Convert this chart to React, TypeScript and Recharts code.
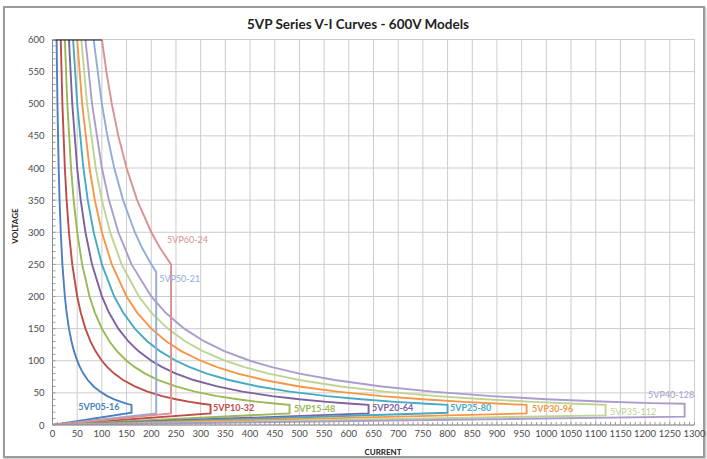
import React from 'react';
import { ComposedChart, Line, XAxis, YAxis, CartesianGrid, ReferenceDot } from 'recharts';

// V-I curves, [current, voltage] pairs
const vp05: [number, number][] = [
  [8.3, 600], [10, 500], [12.5, 400], [14.3, 350], [16.7, 300], [20, 250], [25, 200], [28.6, 175],
  [33.3, 150], [38.5, 130], [43.5, 115], [50, 100], [55.6, 90], [62.5, 80], [71.4, 70], [83.3, 60],
  [96.2, 52], [111, 45], [125, 40], [139, 36], [151.5, 33], [160, 31.3], [160, 19], [0, 0],
];
const vp10: [number, number][] = [
  [16.7, 600], [20, 500], [25, 400], [28.6, 350], [33.3, 300], [40, 250], [50, 200], [57.1, 175],
  [66.7, 150], [76.9, 130], [87, 115], [100, 100], [111, 90], [125, 80], [142.9, 70], [166.7, 60],
  [192.3, 52], [222.2, 45], [250, 40], [277.8, 36], [303, 33], [320, 31.3], [320, 18], [0, 0],
];
const vp15: [number, number][] = [
  [25, 600], [30, 500], [37.5, 400], [42.9, 350], [50, 300], [60, 250], [75, 200], [85.7, 175],
  [100, 150], [115.4, 130], [130.4, 115], [150, 100], [166.7, 90], [187.5, 80], [214.3, 70], [250, 60],
  [288.5, 52], [333.3, 45], [375, 40], [416.7, 36], [454.5, 33], [480, 31.3], [480, 18], [0, 0],
];
const vp20: [number, number][] = [
  [33.3, 600], [40, 500], [50, 400], [57.1, 350], [66.7, 300], [80, 250], [100, 200], [114.3, 175],
  [133.3, 150], [153.8, 130], [173.9, 115], [200, 100], [222.2, 90], [250, 80], [285.7, 70], [333.3, 60],
  [384.6, 52], [444.4, 45], [500, 40], [555.6, 36], [606.1, 33], [640, 31.3], [640, 18], [0, 0],
];
const vp25: [number, number][] = [
  [41.7, 600], [50, 500], [62.5, 400], [71.4, 350], [83.3, 300], [100, 250], [125, 200], [142.9, 175],
  [166.7, 150], [192.3, 130], [217.4, 115], [250, 100], [277.8, 90], [312.5, 80], [357.1, 70], [416.7, 60],
  [480.8, 52], [555.6, 45], [625, 40], [694.4, 36], [757.6, 33], [800, 31.3], [800, 19], [0, 0],
];
const vp30: [number, number][] = [
  [50, 600], [60, 500], [75, 400], [85.7, 350], [100, 300], [120, 250], [150, 200], [171.4, 175],
  [200, 150], [230.8, 130], [260.9, 115], [300, 100], [333.3, 90], [375, 80], [428.6, 70], [500, 60],
  [576.9, 52], [666.7, 45], [750, 40], [833.3, 36], [909.1, 33], [960, 31.3], [960, 18], [0, 0],
];
const vp35: [number, number][] = [
  [58.3, 600], [70, 500], [87.5, 400], [100, 350], [116.7, 300], [140, 250], [175, 200], [200, 175],
  [233.3, 150], [269.2, 130], [304.3, 115], [350, 100], [388.9, 90], [437.5, 80], [500, 70], [583.3, 60],
  [673.1, 52], [777.8, 45], [875, 40], [972.2, 36], [1060.6, 33], [1120, 31.3], [1120, 15], [0, 0],
];
const vp40: [number, number][] = [
  [66.7, 600], [80, 500], [100, 400], [114.3, 350], [133.3, 300], [160, 250], [200, 200], [228.6, 175],
  [266.7, 150], [307.7, 130], [347.8, 115], [400, 100], [444.4, 90], [500, 80], [571.4, 70], [666.7, 60],
  [769.2, 52], [888.9, 45], [1000, 40], [1111.1, 36.5], [1212.1, 34], [1280, 33], [1280, 13], [0, 0],
];
const vp50: [number, number][] = [
  [83.3, 600], [100, 500], [111.1, 450], [125, 400], [142.9, 350], [166.7, 300], [181.8, 275], [200, 250],
  [210, 238], [210, 18], [0, 0],
];
const vp60: [number, number][] = [
  [100, 600], [109.1, 550], [120, 500], [133.3, 450], [150, 400], [171.4, 350], [200, 300], [218.2, 275],
  [240, 250], [240, 18], [0, 0],
];
const voltLimit: [number, number][] = [[0, 600], [100, 600]];

const seriesNames = ['5VP05-16', '5VP10-32', '5VP15-48', '5VP20-64', '5VP25-80', '5VP30-96', '5VP35-112', '5VP40-128', '5VP50-21', '5VP60-24'];
const seriesData = [vp05, vp10, vp15, vp20, vp25, vp30, vp35, vp40, vp50, vp60];
const seriesColors = ['#4a7fc1', '#be4b48', '#98b954', '#7d60a0', '#46aac5', '#f79646', '#bdd492', '#ab9ccd', '#91acd9', '#da9190'];

// where each name is written, [current, voltage] of the text's left middle
const labelAt: [number, number][] = [
  [52, 28], [325, 26], [489, 25], [647, 26], [805, 26], [971, 25], [1129, 21], [1206, 47], [216, 227], [232, 288],
];
const labelBold = [true, true, true, true, true, true, false, false, false, false];

const xTicks = Array.from({ length: 27 }, (_, k) => k * 50);
const yTicks = Array.from({ length: 13 }, (_, k) => k * 50);
const xMinor = Array.from({ length: 131 }, (_, k) => k * 10);
const yMinor = Array.from({ length: 61 }, (_, k) => k * 10);

const FONT = 'Lato, "Open Sans", sans-serif';
const toRows = (pts: [number, number][]) => pts.map(([i, v]) => ({ i, v }));

// minor tick mark inside the plot, number only on multiples of 50
const XTick = (p: any) => {
  const val = p.payload.value;
  return (
    <g>
      <line x1={p.x} x2={p.x} y1={p.y} y2={p.y - 3} stroke="#9a9a9a" />
      {val % 50 === 0 && (
        <text x={p.x} y={p.y + 12} textAnchor="middle" fill="#4a4a4a" fontSize={9.5} fontFamily={FONT}>{val}</text>
      )}
    </g>
  );
};
const YTick = (p: any) => {
  const val = p.payload.value;
  return (
    <g>
      <line x1={p.x} x2={p.x + 3} y1={p.y} y2={p.y} stroke="#9a9a9a" />
      {val % 50 === 0 && (
        <text x={p.x - 8} y={p.y + 3.5} textAnchor="end" fill="#4a4a4a" fontSize={9.5} fontFamily={FONT}>{val}</text>
      )}
    </g>
  );
};

export default function App() {
  return (
    <div style={{ position: 'absolute', left: 0, top: 0, width: 707, height: 459, background: '#fff', fontFamily: FONT }}>
      <div style={{ position: 'absolute', left: 3, top: 6, width: 698, height: 448, border: '2px solid #9c9c9c', boxShadow: '1px 1px 2px #bbb' }} />
      <div style={{ position: 'absolute', left: 0, width: 716, top: 16, textAlign: 'center', fontSize: 13.5, fontWeight: 700, color: '#222' }}>
        5VP Series V-I Curves - 600V Models
      </div>
      <div style={{ position: 'absolute', left: 15, top: 226, transform: 'translate(-50%, -50%) rotate(-90deg)', fontSize: 8, fontWeight: 700, color: '#222' }}>
        VOLTAGE
      </div>
      <div style={{ position: 'absolute', left: 383, top: 447, transform: 'translateX(-50%)', fontSize: 8, fontWeight: 700, color: '#222' }}>
        CURRENT
      </div>
      <ComposedChart width={707} height={459} margin={{ top: 39.5, right: 12.5, bottom: 0, left: 0 }} style={{ position: 'absolute', left: 0, top: 0 }}>
        <CartesianGrid stroke="#cccccc" strokeWidth={1} horizontalValues={yTicks} verticalValues={xTicks} />
        <XAxis dataKey="i" type="number" domain={[0, 1300]} ticks={xMinor} interval={0} height={34}
          axisLine={{ stroke: '#8c8c8c' }} tickLine={false} tickSize={0} tickMargin={0}
          tick={<XTick />} allowDataOverflow />
        <YAxis type="number" domain={[0, 600]} ticks={yMinor} interval={0} width={52.5}
          axisLine={{ stroke: '#8c8c8c' }} tickLine={false} tickSize={0} tickMargin={0}
          tick={<YTick />} allowDataOverflow />
        {seriesData.map((pts, k) => (
          <Line key={seriesNames[k]} data={toRows(pts)} dataKey="v" type="linear" stroke={seriesColors[k]}
            strokeWidth={1.9} dot={false} activeDot={false} isAnimationActive={false} />
        ))}
        <Line data={toRows(voltLimit)} dataKey="v" type="linear" stroke="#111" strokeWidth={2.2}
          dot={false} activeDot={false} isAnimationActive={false} />
        {labelAt.map(([i, v], k) => (
          <ReferenceDot key={'lb' + k} x={i} y={v} r={0} fill="none" stroke="none" ifOverflow="visible"
            label={{ value: seriesNames[k], position: 'right', offset: 0, fill: seriesColors[k], fontSize: 9,
              fontWeight: labelBold[k] ? 700 : 400, fontFamily: FONT }} />
        ))}
      </ComposedChart>
    </div>
  );
}
